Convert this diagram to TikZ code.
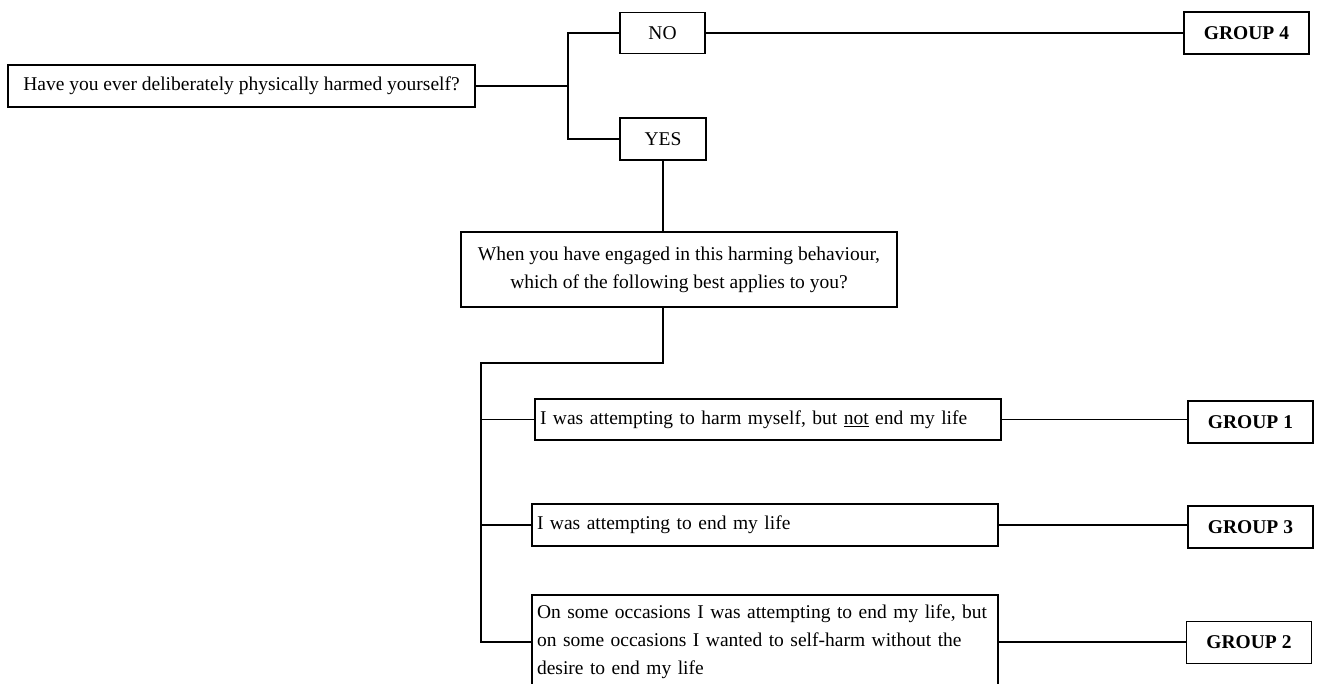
\documentclass[tikz,border=0pt]{standalone}
\usepackage{fontspec}
\setmainfont{Liberation Serif}
\begin{document}
\begin{tikzpicture}[x=1pt,y=-1pt,line width=1.1pt,
  box/.style={draw,rectangle,inner sep=0pt,align=center},
  answer/.style={draw,rectangle,inner xsep=5pt,inner ysep=8pt,text width=456pt,align=left},
  group/.style={draw,rectangle,inner sep=0pt,minimum width=125pt,minimum height=42pt,font=\bfseries}]
\useasboundingbox (0,0) rectangle (1319,684);
\fontsize{19.5}{28}\selectfont
% first question
\node[box,minimum width=467pt,minimum height=42pt] (Q1) at (241.5,86) {Have you ever deliberately physically harmed yourself?};
\node[box,minimum width=85pt,minimum height=41pt] (NO) at (662.5,33) {NO};
\node[box,minimum width=86pt,minimum height=42pt] (YES) at (663,139) {YES};
\node[group] (G4) at (1246.5,33) {GROUP 4};
\coordinate (fork) at (568,86);
\draw (Q1.east) -- (fork);
\draw (NO.west) -| (fork) |- (YES.west);
\draw (NO.east) -- (G4.west);

% second question
\node[box,minimum width=436pt,minimum height=75pt] (Q2) at (679,269.5) {When you have engaged in this harming behaviour,\\ which of the following best applies to you?};
\draw (YES.south) -- (YES.south |- Q2.north);

\node[answer,minimum height=41pt] (A1) at (768,419.5) {I was attempting to harm myself, but \underline{not} end my life};
\node[answer,minimum height=42pt] (A3) at (765,525) {I was attempting to end my life};
\node[answer,minimum height=94pt] (A2) at (765,642) {On some occasions I was attempting to end my life, but\\ on some occasions I wanted to self-harm without the\\ desire to end my life};
\node[group] (G1) at (1250.5,422) {GROUP 1};
\node[group] (G3) at (1250.5,527) {GROUP 3};
\node[group] (G2) at (1249,642.5) {GROUP 2};

\coordinate (split) at (481,363);
\draw (YES.south |- Q2.south) |- (split) |- (A2.west);
\draw (split |- A1.west) -- (A1.west);
\draw (split |- A3.west) -- (A3.west);
\draw (A1.east) -- (A1.east -| G1.west);
\draw (A3.east) -- (A3.east -| G3.west);
\draw (A2.east) -- (A2.east -| G2.west);
\end{tikzpicture}
\end{document}
